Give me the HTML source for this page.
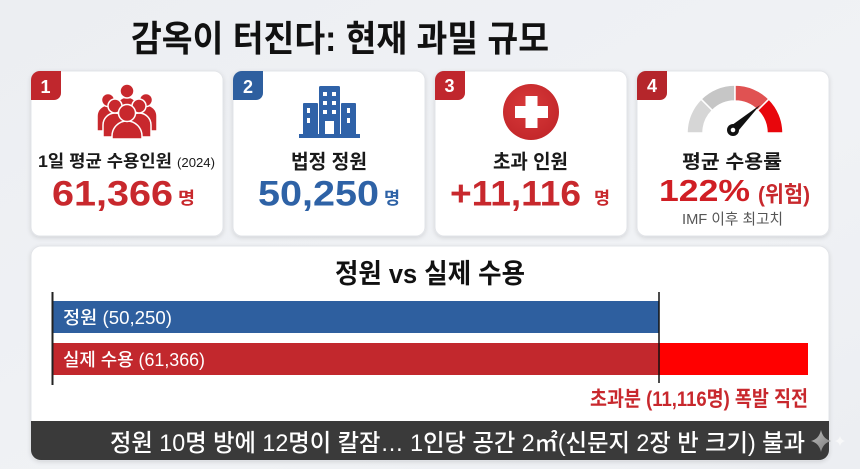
<!DOCTYPE html>
<html>
<head>
<meta charset="utf-8">
<style>
html,body{margin:0;padding:0;width:860px;height:469px;overflow:hidden;background:#eef0f3;}
svg{display:block;}
text{font-family:"Liberation Sans","Noto Sans CJK KR",sans-serif;}
.b{font-weight:bold;}
</style>
</head>
<body>
<svg width="860" height="469" viewBox="0 0 860 469" xmlns="http://www.w3.org/2000/svg">
<defs>
<linearGradient id="bg" x1="0" y1="0" x2="1" y2="1">
<stop offset="0" stop-color="#eceef2"/>
<stop offset="0.6" stop-color="#f0f2f5"/>
<stop offset="1" stop-color="#eceef2"/>
</linearGradient>
<filter id="sh" x="-10%" y="-10%" width="120%" height="130%">
<feDropShadow dx="0" dy="1.5" stdDeviation="2" flood-color="#000" flood-opacity="0.12"/>
</filter>
<radialGradient id="crossg" cx="0.45" cy="0.4" r="0.7">
<stop offset="0" stop-color="#d83a3a"/>
<stop offset="1" stop-color="#c02428"/>
</radialGradient>
<linearGradient id="star" x1="0" y1="0" x2="1" y2="1">
<stop offset="0" stop-color="#bdbdbd"/>
<stop offset="1" stop-color="#7a7a7a"/>
</linearGradient>
</defs>
<rect x="0" y="0" width="860" height="469" fill="url(#bg)"/>

<!-- Title -->
<text x="131" y="51" class="b" font-size="36" fill="#111" textLength="418" lengthAdjust="spacingAndGlyphs">감옥이 터진다: 현재 과밀 규모</text>

<!-- Cards -->
<g filter="url(#sh)">
<rect x="31" y="71" width="192" height="165" rx="9" fill="#fff" stroke="#e2e4e8"/>
<rect x="233" y="71" width="192" height="165" rx="9" fill="#fff" stroke="#e2e4e8"/>
<rect x="435" y="71" width="192" height="165" rx="9" fill="#fff" stroke="#e2e4e8"/>
<rect x="637" y="71" width="192" height="165" rx="9" fill="#fff" stroke="#e2e4e8"/>
</g>

<!-- Badges -->
<path d="M31,80 a9,9 0 0 1 9,-9 H61 V93 a7,7 0 0 1 -7,7 H31 Z" fill="#c0272d"/>
<path d="M233,80 a9,9 0 0 1 9,-9 H263 V93 a7,7 0 0 1 -7,7 H233 Z" fill="#2e5f9f"/>
<path d="M435,80 a9,9 0 0 1 9,-9 H465 V93 a7,7 0 0 1 -7,7 H435 Z" fill="#c0272d"/>
<path d="M637,80 a9,9 0 0 1 9,-9 H667 V93 a7,7 0 0 1 -7,7 H637 Z" fill="#b5262b"/>
<text x="45.5" y="93" class="b" font-size="18" fill="#fff" text-anchor="middle">1</text>
<text x="248" y="93" class="b" font-size="18" fill="#fff" text-anchor="middle">2</text>
<text x="449.5" y="92" class="b" font-size="18" fill="#fff" text-anchor="middle">3</text>
<text x="652" y="92" class="b" font-size="18" fill="#fff" text-anchor="middle">4</text>

<!-- People icon -->
<g fill="#c8282d" stroke="#fff" stroke-width="1.5">
<path d="M116,122 V108 a11,11 0 0 1 22,0 V122 Z"/>
<circle cx="127" cy="91" r="7"/>
<path d="M97,131 V116 a11,11 0 0 1 22,0 V131 Z"/>
<circle cx="108" cy="100" r="6.5"/>
<path d="M135,131 V116 a11,11 0 0 1 22,0 V131 Z"/>
<circle cx="146" cy="100" r="6.5"/>
<path d="M103,137 V125 a12,12 0 0 1 24,0 V137 Z"/>
<circle cx="115" cy="106" r="7"/>
<path d="M127,137 V125 a12,12 0 0 1 24,0 V137 Z"/>
<circle cx="139" cy="106" r="7"/>
<path d="M112,139 V136 a15,15 0 0 1 30,0 V139 Z"/>
<circle cx="127" cy="113" r="8.5"/>
</g>

<!-- Building icon -->
<g fill="#2f62a8">
<rect x="319" y="86" width="21" height="50" rx="1.5"/>
<rect x="303" y="103" width="15" height="33" rx="1"/>
<rect x="341" y="103" width="15" height="33" rx="1"/>
<rect x="299" y="134" width="61" height="4"/>
</g>
<g fill="#fff">
<rect x="323" y="92" width="4" height="4"/><rect x="332" y="92" width="4" height="4"/>
<rect x="323" y="101" width="4" height="4"/><rect x="332" y="101" width="4" height="4"/>
<rect x="323" y="110" width="4" height="4"/><rect x="332" y="110" width="4" height="4"/>
<rect x="325" y="121" width="9" height="13"/>
<rect x="307" y="108" width="3" height="5"/><rect x="307" y="118" width="3" height="5"/>
<rect x="347" y="108" width="3" height="5"/><rect x="347" y="118" width="3" height="5"/>
</g>

<!-- Cross icon -->
<circle cx="531" cy="112" r="28" fill="url(#crossg)"/>
<rect x="515" y="106" width="33" height="12" fill="#fff"/>
<rect x="525.5" y="96" width="12" height="32" fill="#fff"/>

<!-- Gauge icon -->
<g stroke="#fff" stroke-width="1.5">
<path d="M687,133 A48,48 0 0 1 701.06,99.06 L712.37,110.37 A32,32 0 0 0 703,133 Z" fill="#d6d6d6"/>
<path d="M701.06,99.06 A48,48 0 0 1 735,85 L735,101 A32,32 0 0 0 712.37,110.37 Z" fill="#c6c6c6"/>
<path d="M735,85 A48,48 0 0 1 768.94,99.06 L757.63,110.37 A32,32 0 0 0 735,101 Z" fill="#e05252"/>
<path d="M768.94,99.06 A48,48 0 0 1 783,133 L767,133 A32,32 0 0 0 757.63,110.37 Z" fill="#e8060c"/>
</g>
<polygon points="736,133.5 730,126.5 760,105" fill="#111"/>
<circle cx="733" cy="130" r="6" fill="#111"/>
<circle cx="733" cy="130" r="2.3" fill="#fff"/>

<!-- Card texts -->
<text x="38" y="167" class="b" font-size="17" fill="#1a1a1a" textLength="134" lengthAdjust="spacingAndGlyphs">1일 평균 수용인원</text>
<text x="177" y="167" font-size="13" fill="#1a1a1a" textLength="38" lengthAdjust="spacingAndGlyphs">(2024)</text>
<text x="52" y="205.5" class="b" font-size="35" fill="#c8282d" textLength="121" lengthAdjust="spacingAndGlyphs">61,366</text>
<text x="178" y="204" class="b" font-size="17" fill="#c8282d" textLength="17" lengthAdjust="spacingAndGlyphs">명</text>

<text x="291" y="168.5" class="b" font-size="20" fill="#1a1a1a" textLength="76" lengthAdjust="spacingAndGlyphs">법정 정원</text>
<text x="258" y="205.5" class="b" font-size="35" fill="#2e62a6" textLength="121" lengthAdjust="spacingAndGlyphs">50,250</text>
<text x="384" y="204" class="b" font-size="17" fill="#2e62a6" textLength="16" lengthAdjust="spacingAndGlyphs">명</text>

<text x="493" y="168.5" class="b" font-size="20" fill="#1a1a1a" textLength="75" lengthAdjust="spacingAndGlyphs">초과 인원</text>
<text x="450" y="205.5" class="b" font-size="35" fill="#c8282d" textLength="131" lengthAdjust="spacingAndGlyphs">+11,116</text>
<text x="594" y="204" class="b" font-size="17" fill="#c8282d" textLength="16" lengthAdjust="spacingAndGlyphs">명</text>

<text x="682" y="168" class="b" font-size="19" fill="#1a1a1a" textLength="100" lengthAdjust="spacingAndGlyphs">평균 수용률</text>
<text x="659" y="201" class="b" font-size="31" fill="#d01e24" textLength="91" lengthAdjust="spacingAndGlyphs">122%</text>
<text x="758" y="202" class="b" font-size="22" fill="#c8282d" textLength="52" lengthAdjust="spacingAndGlyphs">(위험)</text>
<text x="682" y="224" font-size="15" fill="#555" textLength="101" lengthAdjust="spacingAndGlyphs">IMF 이후 최고치</text>

<!-- Bottom panel -->
<g filter="url(#sh)">
<rect x="31" y="246" width="798" height="214" rx="10" fill="#fff" stroke="#e2e4e8"/>
</g>
<text x="335" y="283" class="b" font-size="27" fill="#111" textLength="190" lengthAdjust="spacingAndGlyphs">정원 vs 실제 수용</text>

<rect x="52" y="301" width="607" height="32" fill="#2e5f9f"/>
<rect x="52" y="343" width="607" height="32" fill="#c2282d"/>
<rect x="659" y="343" width="149" height="32" fill="#ff0000"/>
<line x1="52.5" y1="292" x2="52.5" y2="385" stroke="#222" stroke-width="2"/>
<line x1="659" y1="292" x2="659" y2="383" stroke="#111" stroke-width="1.5"/>

<text x="63" y="324" font-size="18" fill="#fff" font-weight="500" textLength="109" lengthAdjust="spacingAndGlyphs">정원 (50,250)</text>
<text x="63" y="366" font-size="18" fill="#fff" font-weight="500" textLength="142" lengthAdjust="spacingAndGlyphs">실제 수용 (61,366)</text>

<text x="590" y="406" class="b" font-size="21" fill="#c8282d" textLength="218" lengthAdjust="spacingAndGlyphs">초과분 (11,116명) 폭발 직전</text>

<!-- Dark footer bar -->
<path d="M31,421 H829 V450 a10,10 0 0 1 -10,10 H41 a10,10 0 0 1 -10,-10 Z" fill="#3a3a3a"/>
<text x="110" y="451" font-size="24" fill="#fff" font-weight="500" textLength="695" lengthAdjust="spacingAndGlyphs">정원 10명 방에 12명이 칼잠… 1인당 공간 2㎡(신문지 2장 반 크기) 불과</text>

<path d="M821,430 Q823,439 831,441 Q823,443 821,452 Q819,443 811,441 Q819,439 821,430 Z" fill="url(#star)"/>
<path d="M840,436 Q841,440 845,441 Q841,442 840,446 Q839,442 835,441 Q839,440 840,436 Z" fill="#fafafa" opacity="0.8"/>
</svg>
</body>
</html>
